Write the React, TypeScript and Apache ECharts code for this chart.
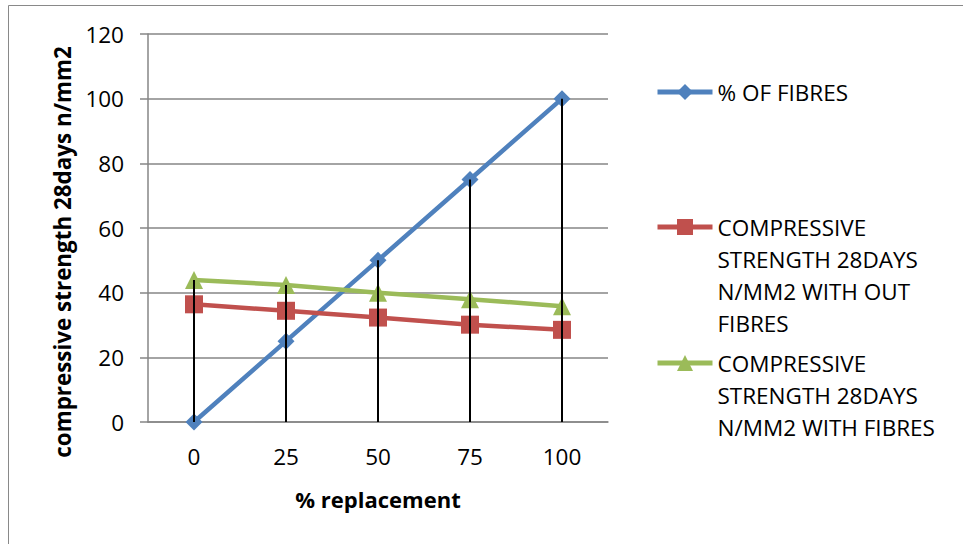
import React, { useEffect, useRef } from "react";
import * as echarts from "echarts";

const categories = ["0", "25", "50", "75", "100"];
const fibres = [0, 25, 50, 75, 100];
const withoutFibres = [36.4, 34.4, 32.3, 30.1, 28.5];
const withFibres = [43.9, 42.4, 40.0, 38.0, 35.8];
const yTicks = { min: 0, max: 120, interval: 20 };

const seriesNames = [
  "% OF FIBRES",
  "COMPRESSIVE STRENGTH 28DAYS N/MM2 WITH OUT FIBRES",
  "COMPRESSIVE STRENGTH 28DAYS N/MM2 WITH FIBRES",
];
const legendLines: Record<string, string[]> = {
  [seriesNames[0]]: ["% OF FIBRES"],
  [seriesNames[1]]: ["COMPRESSIVE", "STRENGTH 28DAYS", "N/MM2 WITH OUT", "FIBRES"],
  [seriesNames[2]]: ["COMPRESSIVE", "STRENGTH 28DAYS", "N/MM2 WITH FIBRES"],
};

const FONT = "Open Sans";
const LH = 32;

export default function App() {
  const ref = useRef<HTMLDivElement>(null);
  useEffect(() => {
    document.body.style.margin = "0";
    const chart = echarts.init(ref.current!, undefined, { renderer: "svg" });
    const dropValues = categories.map((_, i) =>
      Math.max(fibres[i], withoutFibres[i], withFibres[i])
    );
    const legendFor = (name: string, iconCenterY: number) => {
      const lines = legendLines[name];
      const total = lines.length * 2 - 1;
      return {
        data: [name],
        left: 655,
        top: iconCenterY - (total * LH) / 2,
        padding: 0,
        itemWidth: 55,
        itemHeight: 20,
        lineStyle: { width: 5 },
        formatter: () => "\n".repeat(lines.length - 1) + lines.join("\n"),
        textStyle: { fontFamily: FONT, fontSize: 22.5, color: "#000", lineHeight: LH },
        selectedMode: false,
      };
    };
    chart.setOption({
      animation: false,
      backgroundColor: "#fff",
      textStyle: { fontFamily: FONT },
      graphic: [
        {
          type: "rect",
          shape: { x: 8.5, y: 5.5, width: 1000, height: 600 },
          style: { fill: "none", stroke: "#898989", lineWidth: 1 },
          silent: true,
        },
      ],
      grid: { left: 148, right: 355, top: 34, bottom: 122 },
      legend: [
        legendFor(seriesNames[0], 92),
        legendFor(seriesNames[1], 227),
        legendFor(seriesNames[2], 363),
      ],
      xAxis: {
        type: "category",
        data: categories,
        boundaryGap: true,
        name: "% replacement",
        nameLocation: "middle",
        nameGap: 66,
        nameTextStyle: { fontFamily: FONT, fontSize: 22, fontWeight: "bold", color: "#000" },
        axisLine: { lineStyle: { color: "#868686", width: 1.5 } },
        axisTick: { show: false },
        axisLabel: { fontFamily: FONT, fontSize: 22.5, color: "#000", margin: 23 },
      },
      yAxis: {
        type: "value",
        min: yTicks.min,
        max: yTicks.max,
        interval: yTicks.interval,
        name: "compressive strength 28days n/mm2",
        nameLocation: "middle",
        nameGap: 75,
        nameTextStyle: {
          fontFamily: FONT,
          fontSize: 22.4,
          fontWeight: "bold",
          color: "#000",
          padding: [0, 48, 0, 0],
        },
        axisLine: { show: true, lineStyle: { color: "#868686", width: 1.5 } },
        axisTick: { show: true, length: 8, lineStyle: { color: "#868686", width: 1.5 } },
        axisLabel: { fontFamily: FONT, fontSize: 22.5, color: "#000", margin: 24 },
        splitLine: { lineStyle: { color: "#868686", width: 1.5 } },
      },
      series: [
        {
          name: seriesNames[0],
          type: "line",
          data: fibres,
          symbol: "diamond",
          symbolSize: 17,
          itemStyle: { color: "#4F81BD" },
          lineStyle: { color: "#4F81BD", width: 4.5 },
          z: 2,
        },
        {
          name: seriesNames[1],
          type: "line",
          data: withoutFibres,
          symbol: "rect",
          symbolSize: 18,
          itemStyle: { color: "#C0504D" },
          lineStyle: { color: "#C0504D", width: 4.5 },
          z: 2,
        },
        {
          name: seriesNames[2],
          type: "line",
          data: withFibres,
          symbol: "triangle",
          symbolSize: 18,
          itemStyle: { color: "#9BBB59" },
          lineStyle: { color: "#9BBB59", width: 4.5 },
          z: 2,
        },
        {
          name: "drop lines",
          type: "bar",
          data: dropValues,
          barWidth: 2,
          itemStyle: { color: "#000" },
          silent: true,
          z: 3,
        },
      ],
    });
    return () => chart.dispose();
  }, []);
  return <div ref={ref} style={{ width: 963, height: 544 }} />;
}
